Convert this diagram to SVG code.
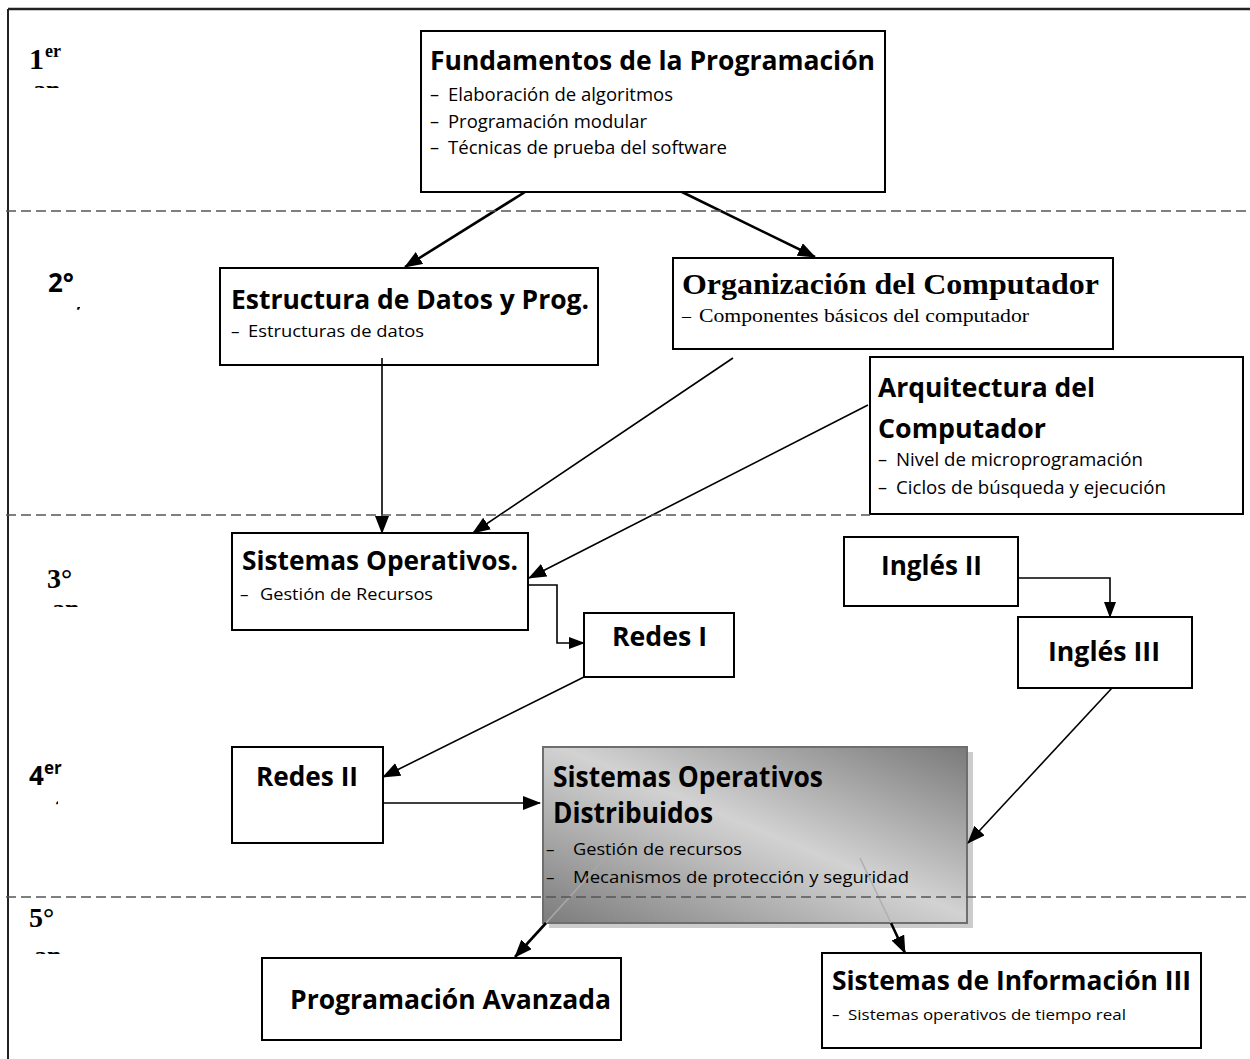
<svg xmlns="http://www.w3.org/2000/svg" width="1250" height="1059" viewBox="0 0 1250 1059">
<style>
.box{fill:#fff;stroke:#000;stroke-width:2}
.t{font-family:"Open Sans","Liberation Sans",sans-serif;font-weight:700;fill:#000}
.s{font-family:"Open Sans","Liberation Sans",sans-serif;font-weight:400;fill:#000}
.tt{font-family:"Liberation Serif",serif;font-weight:700;fill:#000}
.ts{font-family:"Liberation Serif",serif;font-weight:400;fill:#000}
.c{fill:none;stroke:#000;stroke-width:1.6}
.ck{fill:none;stroke:#000;stroke-width:2.6}
.dash{fill:none;stroke:#555;stroke-width:1.6;stroke-dasharray:10 5}
</style>
<defs>
<marker id="ah" markerUnits="userSpaceOnUse" markerWidth="18" markerHeight="14" refX="17" refY="7" orient="auto"><path d="M0,0 L18,7 L0,14 z" fill="#000"/></marker>
<marker id="ahs" markerUnits="userSpaceOnUse" markerWidth="16" markerHeight="12" refX="15" refY="6" orient="auto"><path d="M0,0 L16,6 L0,12 z" fill="#000"/></marker>
<linearGradient id="g" x1="1" y1="0" x2="0" y2="1">
<stop offset="0" stop-color="#7a7a7a"/><stop offset="0.48" stop-color="#d2d2d2"/><stop offset="0.56" stop-color="#c6c6c6"/><stop offset="1" stop-color="#7c7c7c"/>
</linearGradient>
<clipPath id="k1"><rect x="30" y="84" width="32" height="4"/></clipPath>
<clipPath id="k2"><rect x="70" y="307" width="10" height="4"/></clipPath>
<clipPath id="k3"><rect x="50" y="603" width="31" height="4"/></clipPath>
<clipPath id="k4"><rect x="51" y="801" width="7" height="4"/></clipPath>
<clipPath id="k5"><rect x="32" y="950" width="31" height="4"/></clipPath>
</defs>
<rect width="1250" height="1059" fill="#fff"/>
<g id="frame">
<line x1="8" y1="9" x2="1250" y2="9" stroke="#222" stroke-width="2.5"/>
<line x1="8" y1="9" x2="8" y2="1059" stroke="#222" stroke-width="2"/>
</g>
<g id="years">
<text class="tt" x="29" y="69" font-size="30">1</text><text class="tt" x="45" y="57" font-size="18">er</text>
<text class="tt" x="33" y="98" font-size="26" clip-path="url(#k1)">año</text>
<text class="t" x="48" y="292" font-size="26">2°</text>
<text class="t" x="58" y="326" font-size="26" clip-path="url(#k2)">año</text>
<text class="tt" x="47" y="588" font-size="28">3°</text>
<text class="tt" x="52" y="617" font-size="26" clip-path="url(#k3)">año</text>
<text class="t" x="29" y="785" font-size="26">4</text><text class="t" x="44" y="774" font-size="17">er</text>
<text class="t" x="40" y="817" font-size="22" clip-path="url(#k4)">año</text>
<text class="tt" x="29" y="927" font-size="28">5°</text>
<text class="tt" x="34" y="964" font-size="26" clip-path="url(#k5)">año</text>
</g>
<g id="n-fund">
<rect class="box" x="421" y="31" width="464" height="161"/>
<text class="t" x="430" y="70" font-size="27" textLength="445" lengthAdjust="spacingAndGlyphs">Fundamentos de la Programación</text>
<text class="s" x="430" y="101" font-size="18">–</text><text class="s" x="448" y="101" font-size="18" textLength="225" lengthAdjust="spacingAndGlyphs">Elaboración de algoritmos</text>
<text class="s" x="430" y="128" font-size="18">–</text><text class="s" x="448" y="128" font-size="18" textLength="199" lengthAdjust="spacingAndGlyphs">Programación modular</text>
<text class="s" x="430" y="154" font-size="18">–</text><text class="s" x="448" y="154" font-size="18" textLength="279" lengthAdjust="spacingAndGlyphs">Técnicas de prueba del software</text>
</g>
<g id="n-estr">
<rect class="box" x="220" y="268" width="378" height="97"/>
<text class="t" x="231" y="309" font-size="26" textLength="358" lengthAdjust="spacingAndGlyphs">Estructura de Datos y Prog.</text>
<text class="s" x="231" y="337" font-size="17">–</text><text class="s" x="248" y="337" font-size="17" textLength="176" lengthAdjust="spacingAndGlyphs">Estructuras de datos</text>
</g>
<g id="n-org">
<rect class="box" x="673" y="258" width="440" height="91"/>
<text class="tt" x="682" y="294" font-size="29" textLength="417" lengthAdjust="spacingAndGlyphs">Organización del Computador</text>
<text class="ts" x="682" y="322" font-size="18">–</text><text class="ts" x="699" y="322" font-size="18" textLength="330" lengthAdjust="spacingAndGlyphs">Componentes básicos del computador</text>
</g>
<g id="n-arq">
<rect class="box" x="870" y="357" width="373" height="157"/>
<text class="t" x="878" y="397" font-size="27" textLength="217" lengthAdjust="spacingAndGlyphs">Arquitectura del</text>
<text class="t" x="878" y="438" font-size="27" textLength="168" lengthAdjust="spacingAndGlyphs">Computador</text>
<text class="s" x="878" y="466" font-size="18">–</text><text class="s" x="896" y="466" font-size="18" textLength="247" lengthAdjust="spacingAndGlyphs">Nivel de microprogramación</text>
<text class="s" x="878" y="494" font-size="18">–</text><text class="s" x="896" y="494" font-size="18" textLength="270" lengthAdjust="spacingAndGlyphs">Ciclos de búsqueda y ejecución</text>
</g>
<g id="n-so">
<rect class="box" x="232" y="533" width="296" height="97"/>
<text class="t" x="242" y="570" font-size="27" textLength="276" lengthAdjust="spacingAndGlyphs">Sistemas Operativos.</text>
<text class="s" x="240" y="600" font-size="17">–</text><text class="s" x="260" y="600" font-size="17" textLength="173" lengthAdjust="spacingAndGlyphs">Gestión de Recursos</text>
</g>
<g id="n-redes1">
<rect class="box" x="584" y="613" width="150" height="64"/>
<text class="t" x="612" y="646" font-size="26" textLength="95" lengthAdjust="spacingAndGlyphs">Redes I</text>
</g>
<g id="n-ing2">
<rect class="box" x="844" y="537" width="174" height="69"/>
<text class="t" x="881" y="575" font-size="26" textLength="101" lengthAdjust="spacingAndGlyphs">Inglés II</text>
</g>
<g id="n-ing3">
<rect class="box" x="1018" y="617" width="174" height="71"/>
<text class="t" x="1048" y="661" font-size="26" textLength="112" lengthAdjust="spacingAndGlyphs">Inglés III</text>
</g>
<g id="n-redes2">
<rect class="box" x="232" y="747" width="151" height="96"/>
<text class="t" x="256" y="786" font-size="26" textLength="102" lengthAdjust="spacingAndGlyphs">Redes II</text>
</g>
<g id="n-sod">
<rect x="549" y="752" width="424" height="176" fill="#cccccc"/>
<rect x="543" y="747" width="424" height="176" fill="url(#g)" stroke="#6e6e6e" stroke-width="2"/>
<text class="t" x="553" y="787" font-size="28" textLength="270" lengthAdjust="spacingAndGlyphs">Sistemas Operativos</text>
<text class="t" x="553" y="823" font-size="28" textLength="160" lengthAdjust="spacingAndGlyphs">Distribuidos</text>
<text class="s" x="546" y="855" font-size="17">–</text><text class="s" x="573" y="855" font-size="17" textLength="169" lengthAdjust="spacingAndGlyphs">Gestión de recursos</text>
<text class="s" x="546" y="883" font-size="17">–</text><text class="s" x="573" y="883" font-size="17" textLength="336" lengthAdjust="spacingAndGlyphs">Mecanismos de protección y seguridad</text>
</g>
<g id="n-progav">
<rect class="box" x="262" y="958" width="359" height="82"/>
<text class="t" x="290" y="1009" font-size="26" textLength="321" lengthAdjust="spacingAndGlyphs">Programación Avanzada</text>
</g>
<g id="n-si3">
<rect class="box" x="822" y="953" width="379" height="95"/>
<text class="t" x="832" y="990" font-size="27" textLength="359" lengthAdjust="spacingAndGlyphs">Sistemas de Información III</text>
<text class="s" x="832" y="1020" font-size="15">–</text><text class="s" x="848" y="1020" font-size="15" textLength="278" lengthAdjust="spacingAndGlyphs">Sistemas operativos de tiempo real</text>
</g>
<g id="connectors">
<line class="ck" x1="525" y1="192" x2="405" y2="267" marker-end="url(#ah)"/>
<line class="ck" x1="682" y1="192" x2="815" y2="257" marker-end="url(#ah)"/>
<line class="c" x1="382" y1="358" x2="382" y2="533" marker-end="url(#ah)"/>
<line class="c" x1="733" y1="358" x2="473" y2="533" marker-end="url(#ah)"/>
<line class="c" x1="868" y1="405" x2="529" y2="578" marker-end="url(#ah)"/>
<polyline class="c" points="528,585 557,585 557,643 584,643" marker-end="url(#ahs)"/>
<line class="c" x1="584" y1="677" x2="383" y2="777" marker-end="url(#ah)"/>
<line class="c" x1="383" y1="803" x2="540" y2="803" marker-end="url(#ah)"/>
<polyline class="c" points="1018,578 1110,578 1110,617" marker-end="url(#ahs)"/>
<line class="c" x1="1112" y1="688" x2="968" y2="843" marker-end="url(#ah)"/>
<line x1="605" y1="858" x2="546" y2="923" stroke="#a8a8a8" stroke-width="1.6"/>
<line class="ck" x1="546" y1="923" x2="515" y2="957" marker-end="url(#ah)"/>
<line x1="860" y1="858" x2="891" y2="923" stroke="#b0b0b0" stroke-width="1.6"/>
<line class="ck" x1="891" y1="923" x2="905" y2="953" marker-end="url(#ah)"/>
</g>
<g id="dividers">
<line class="dash" x1="6" y1="211" x2="1250" y2="211"/>
<line class="dash" x1="6" y1="515" x2="870" y2="515"/>
<line class="dash" x1="6" y1="897" x2="1250" y2="897"/>
</g>
</svg>
